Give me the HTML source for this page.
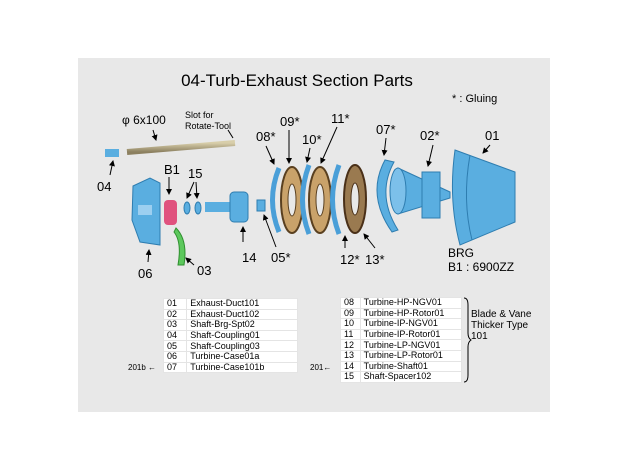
<!DOCTYPE html>
<html><head><meta charset="utf-8"><style>
body{margin:0;width:628px;height:472px;background:#fff;overflow:hidden;font-family:"Liberation Sans",sans-serif}
.t{position:absolute;border-collapse:collapse;font-size:9px;background:#fff}
.t td{height:9.6px;padding:0 3px;border:1px solid #e4e4e4;line-height:9px;white-space:nowrap}
</style></head><body>
<svg width="628" height="472" style="position:absolute;left:0;top:0" font-family="Liberation Sans, sans-serif">
<defs>
<marker id="a" markerWidth="6" markerHeight="6" refX="5" refY="3" orient="auto"><path d="M0,0 L6,3 L0,6 z" fill="#000"/></marker>
<linearGradient id="rod" x1="0" y1="0" x2="0" y2="1"><stop offset="0" stop-color="#d8ceaa"/><stop offset="1" stop-color="#8c8060"/></linearGradient>
</defs>
<rect x="78" y="58" width="472" height="354" fill="#e8e8e8"/>
<text x="297" y="86" font-size="17" text-anchor="middle">04-Turb-Exhaust Section Parts</text>
<text x="452" y="102" font-size="11">* : Gluing</text>
<text x="122" y="124" font-size="12">φ 6x100</text>
<text x="185" y="118" font-size="9">Slot for</text>
<text x="185" y="129" font-size="9">Rotate-Tool</text>
<line x1="127" y1="152" x2="235" y2="143" stroke="url(#rod)" stroke-width="6"/>
<line x1="153" y1="130" x2="156" y2="140" stroke="#000" marker-end="url(#a)"/>
<line x1="228" y1="130" x2="233" y2="138" stroke="#000"/>
<rect x="105" y="149" width="14" height="8" fill="#5aaee0"/>
<line x1="110" y1="175" x2="113" y2="161" stroke="#000" marker-end="url(#a)"/>
<text x="97" y="191" font-size="13">04</text>
<!-- case 06 -->
<path d="M133,186 L150,178 L160,183 L160,245 L140,242 L132,220 Z" fill="#5aaee0" stroke="#2e7db0"/>
<rect x="138" y="205" width="14" height="10" fill="#9ccff0"/>
<line x1="148" y1="262" x2="149" y2="250" stroke="#000" marker-end="url(#a)"/>
<text x="138" y="278" font-size="13">06</text>
<!-- B1 -->
<rect x="164" y="200" width="13" height="25" rx="4" fill="#e0527e"/>
<text x="164" y="174" font-size="13">B1</text>
<line x1="169" y1="177" x2="169" y2="194" stroke="#000" marker-end="url(#a)"/>
<!-- 15 -->
<text x="188" y="178" font-size="13">15</text>
<line x1="194" y1="182" x2="187" y2="198" stroke="#000" marker-end="url(#a)"/>
<line x1="196" y1="182" x2="197" y2="198" stroke="#000" marker-end="url(#a)"/>
<ellipse cx="187" cy="208" rx="3" ry="6" fill="#5aaee0" stroke="#2e7db0"/>
<ellipse cx="198" cy="208" rx="3" ry="6" fill="#5aaee0" stroke="#2e7db0"/>
<!-- 03 -->
<path d="M176,228 Q188,240 184,265 L178,265 Q182,242 174,232 Z" fill="#5cc85c" stroke="#2f8f2f"/>
<line x1="194" y1="265" x2="186" y2="258" stroke="#000" marker-end="url(#a)"/>
<text x="197" y="275" font-size="13">03</text>
<!-- 14 shaft -->
<rect x="205" y="202" width="30" height="10" fill="#5aaee0"/>
<rect x="230" y="192" width="18" height="30" rx="4" fill="#5aaee0" stroke="#2e7db0"/>
<line x1="243" y1="242" x2="243" y2="227" stroke="#000" marker-end="url(#a)"/>
<text x="242" y="262" font-size="13">14</text>
<rect x="257" y="200" width="8" height="11" fill="#5aaee0" stroke="#2e7db0"/>
<line x1="276" y1="247" x2="264" y2="215" stroke="#000" marker-end="url(#a)"/>
<text x="271" y="262" font-size="13">05*</text>
<!-- rings -->
<path d="M279,168 Q266,200 279,232" fill="none" stroke="#4a9fd8" stroke-width="5"/>
<ellipse cx="292" cy="200" rx="11" ry="33" fill="#c9a26a" stroke="#5a4020" stroke-width="2"/>
<ellipse cx="292" cy="200" rx="4" ry="16" fill="#e8e8e8" stroke="#5a4020"/>
<path d="M309,165 Q296,200 309,234" fill="none" stroke="#4a9fd8" stroke-width="5"/>
<ellipse cx="320" cy="200" rx="11" ry="33" fill="#c9a26a" stroke="#5a4020" stroke-width="2"/>
<ellipse cx="320" cy="200" rx="4" ry="16" fill="#e8e8e8" stroke="#5a4020"/>
<path d="M339,165 Q326,200 339,234" fill="none" stroke="#4a9fd8" stroke-width="5"/>
<ellipse cx="355" cy="199" rx="11" ry="34" fill="#9a7a50" stroke="#4a3018" stroke-width="2"/>
<ellipse cx="355" cy="199" rx="4" ry="16" fill="#e8e8e8" stroke="#4a3018"/>
<path d="M385,160 Q366,195 392,232 L398,230 Q376,195 394,162 Z" fill="#5aaee0" stroke="#2e7db0"/>
<!-- 02 cone -->
<path d="M398,168 L450,192 L450,198 L398,214 Z" fill="#5aaee0" stroke="#2e7db0"/>
<ellipse cx="398" cy="191" rx="8" ry="23" fill="#7cc0ea" stroke="#2e7db0"/>
<rect x="422" y="172" width="18" height="46" fill="#5aaee0" stroke="#2e7db0"/>
<!-- 01 duct -->
<path d="M455,150 L515,172 L515,222 L460,245 Q448,200 455,150 Z" fill="#5aaee0" stroke="#2e7db0"/>
<path d="M470,155 Q462,200 472,240" fill="none" stroke="#2e7db0"/>
<!-- labels -->
<text x="256" y="141" font-size="13">08*</text>
<line x1="266" y1="146" x2="274" y2="164" stroke="#000" marker-end="url(#a)"/>
<text x="280" y="126" font-size="13">09*</text>
<line x1="289" y1="130" x2="289" y2="163" stroke="#000" marker-end="url(#a)"/>
<text x="302" y="144" font-size="13">10*</text>
<line x1="310" y1="148" x2="307" y2="162" stroke="#000" marker-end="url(#a)"/>
<text x="331" y="123" font-size="13">11*</text>
<line x1="337" y1="127" x2="321" y2="163" stroke="#000" marker-end="url(#a)"/>
<text x="376" y="134" font-size="13">07*</text>
<line x1="386" y1="138" x2="384" y2="155" stroke="#000" marker-end="url(#a)"/>
<text x="420" y="140" font-size="13">02*</text>
<line x1="433" y1="145" x2="428" y2="166" stroke="#000" marker-end="url(#a)"/>
<text x="485" y="140" font-size="13">01</text>
<line x1="490" y1="145" x2="483" y2="153" stroke="#000" marker-end="url(#a)"/>
<line x1="345" y1="248" x2="345" y2="236" stroke="#000" marker-end="url(#a)"/>
<text x="340" y="264" font-size="13">12*</text>
<line x1="375" y1="248" x2="364" y2="234" stroke="#000" marker-end="url(#a)"/>
<text x="365" y="264" font-size="13">13*</text>
<text x="448" y="257" font-size="12">BRG</text>
<text x="448" y="271" font-size="12">B1 : 6900ZZ</text>
<!-- notes -->
<text x="128" y="370" font-size="8">201b ←</text>
<text x="310" y="370" font-size="8">201←</text>
<path d="M464,298 Q468,298 468,305 L468,333 Q468,338 471,340 Q468,342 468,347 L468,375 Q468,382 464,382" fill="none" stroke="#000"/>
<text x="471" y="317" font-size="10">Blade &amp; Vane</text>
<text x="471" y="328" font-size="10">Thicker Type</text>
<text x="471" y="339" font-size="10">101</text>
</svg>
<table class="t" style="left:163px;top:298px;width:135px">
<tr><td>01</td><td>Exhaust-Duct101</td></tr><tr><td>02</td><td>Exhaust-Duct102</td></tr><tr><td>03</td><td>Shaft-Brg-Spt02</td></tr><tr><td>04</td><td>Shaft-Coupling01</td></tr><tr><td>05</td><td>Shaft-Coupling03</td></tr><tr><td>06</td><td>Turbine-Case01a</td></tr><tr><td>07</td><td>Turbine-Case101b</td></tr>
</table>
<table class="t" style="left:340px;top:297px;width:122px">
<tr><td>08</td><td>Turbine-HP-NGV01</td></tr><tr><td>09</td><td>Turbine-HP-Rotor01</td></tr><tr><td>10</td><td>Turbine-IP-NGV01</td></tr><tr><td>11</td><td>Turbine-IP-Rotor01</td></tr><tr><td>12</td><td>Turbine-LP-NGV01</td></tr><tr><td>13</td><td>Turbine-LP-Rotor01</td></tr><tr><td>14</td><td>Turbine-Shaft01</td></tr><tr><td>15</td><td>Shaft-Spacer102</td></tr>
</table>
</body></html>
